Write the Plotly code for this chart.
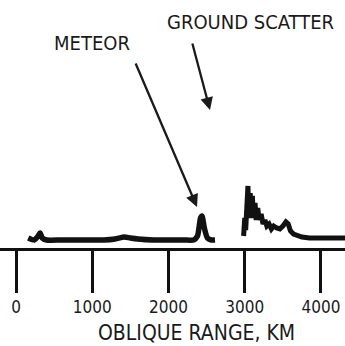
import plotly.graph_objects as go

# Oblique-range A-scope trace (amplitude in arbitrary units)
range_km_1 = [160, 240, 290, 315, 345, 400, 600, 900, 1150, 1300, 1420, 1500, 1600,
              1800, 2000, 2200, 2330, 2380, 2420, 2440, 2470, 2510, 2560, 2610]
amp_1 = [10, 8, 12, 15, 10, 8, 8, 8, 8, 9, 11, 10, 9,
         8, 8, 8, 8, 12, 30, 32, 20, 10, 8, 8]

range_km_2 = [2985, 3000, 3012, 3030, 3042, 3055, 3072, 3085, 3100, 3115, 3135, 3150,
              3170, 3190, 3215, 3240, 3265, 3290, 3320, 3350, 3380, 3420, 3460, 3500,
              3540, 3570, 3600, 3640, 3690, 3750, 3850, 4000, 4150, 4315]
amp_2 = [12, 30, 18, 45, 62, 30, 55, 32, 52, 30, 45, 28,
         40, 28, 34, 24, 28, 22, 24, 19, 22, 20, 19, 22,
         26, 24, 17, 14, 12, 11, 10, 10, 10, 10]

tick_vals = [0, 1000, 2000, 3000, 4000]
tick_text = ["0", "1000", "2000", "3000", "4000"]

FONT = "DejaVu Sans Condensed, Liberation Sans Narrow, DejaVu Sans, sans-serif"
INK = "#1a1a1a"

fig = go.Figure()
fig.add_trace(go.Scatter(x=range_km_1, y=amp_1, mode="lines",
                         line=dict(color="#111111", width=5.5, shape="spline", smoothing=0.6),
                         hoverinfo="skip", showlegend=False))
fig.add_trace(go.Scatter(x=range_km_2, y=amp_2, mode="lines",
                         line=dict(color="#111111", width=5),
                         hoverinfo="skip", showlegend=False))

fig.add_annotation(x=2374, y=41, ax=-62, ay=-145, text="", showarrow=True,
                   arrowhead=2, arrowsize=1.1, arrowwidth=2.3, arrowcolor=INK,
                   xref="x", yref="y")
fig.add_annotation(x=2544, y=138, ax=-18, ay=-68, text="", showarrow=True,
                   arrowhead=2, arrowsize=1.1, arrowwidth=2.3, arrowcolor=INK,
                   xref="x", yref="y")
fig.add_annotation(x=997, y=205, text="METEOR", showarrow=False,
                   font=dict(family=FONT, size=20, color=INK), xref="x", yref="y")
fig.add_annotation(x=3069, y=226, text="GROUND SCATTER", showarrow=False,
                   font=dict(family=FONT, size=20, color=INK), xref="x", yref="y")
fig.add_annotation(x=196 / 345, y=(248 - 333) / 248, xref="paper", yref="paper",
                   text="OBLIQUE RANGE, KM", showarrow=False, yanchor="middle",
                   font=dict(family=FONT, size=21, color=INK))

fig.update_layout(
    width=345, height=346,
    margin=dict(l=0, r=0, t=0, b=98),
    paper_bgcolor="white", plot_bgcolor="white",
    xaxis=dict(range=[-210, 4315], showgrid=False, zeroline=False,
               showline=True, linewidth=3, linecolor="#111111",
               ticks="outside", ticklen=42, tickwidth=2.5, tickcolor="#111111",
               tickvals=tick_vals, ticktext=tick_text, ticklabelstandoff=0,
               tickfont=dict(family=FONT, size=17, color=INK)),
    yaxis=dict(range=[0, 248], visible=False, showgrid=False, zeroline=False),
)

fig.write_html("out.html")
